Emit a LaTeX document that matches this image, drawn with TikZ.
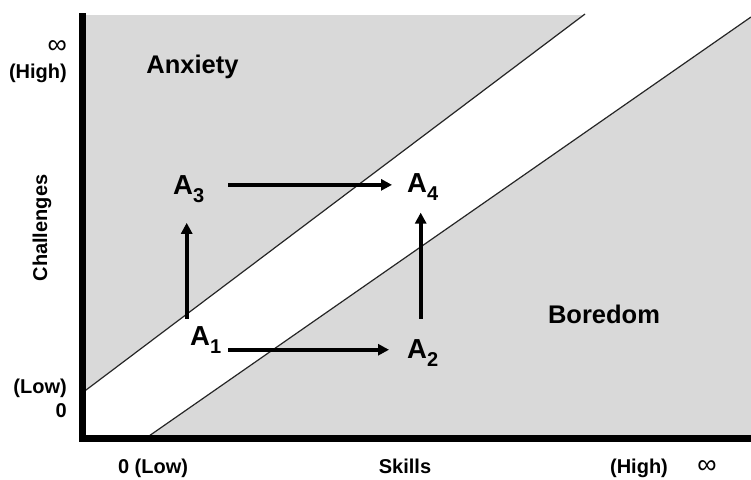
\documentclass[tikz,border=0pt]{standalone}
\usepackage{fontspec}
\setmainfont{Liberation Sans}
\usetikzlibrary{arrows.meta}
\definecolor{zonegray}{RGB}{217,217,217}
\newcommand{\lowidx}[1]{\raisebox{-8.4pt}{\fontsize{20}{20}\selectfont #1}}

\begin{document}
\begin{tikzpicture}[x=1pt,y=-1pt,
    state/.style={inner sep=0pt, anchor=base west, font=\fontsize{27.5}{27.5}\selectfont\bfseries},
    zone/.style={inner sep=0pt, anchor=base, font=\fontsize{25.5}{25.5}\selectfont\bfseries},
    tick/.style={inner sep=0pt, font=\fontsize{20}{20}\selectfont\bfseries},
    inf/.style={inner sep=0pt, font=\fontsize{27}{27}\selectfont},
    flow/.style={line width=3.8pt, -{Triangle[length=11pt,width=11pt]}}]
    \useasboundingbox (0,0) rectangle (751,479);

    % Draw the gray zones
    \fill[zonegray] (86,15) rectangle (751,436);

    % Cut out the white band between the two lines
    \fill[white] (86,390) -- (585,15) -- (751,15) -- (751,17) -- (149,436) -- (86,436) -- cycle;
    \draw[line width=1.2pt, black!85] (83,392.3) -- (585,14);
    \draw[line width=1.2pt, black!85] (149,436) -- (751,17);

    % Draw the axes
    \draw[line width=7pt] (82.5,13) -- (82.5,438.5) -- (751,438.5);

    % Label the zones
    \node (anxiety) at (192.5,73) [zone] {Anxiety};
    \node (boredom) at (604,323) [zone] {Boredom};

    % Label the axes
    \node (yinf) at (67,47) [inf, anchor=east] {∞};
    \node (yhigh) at (67,78) [tick, anchor=base east] {(High)};
    \node (ylow) at (67,393) [tick, anchor=base east] {(Low)};
    \node (yzero) at (67,417) [tick, anchor=base east] {0};
    \node (ylabel) at (42,228) [tick, rotate=90] {Challenges};
    \node (xlow) at (153,473) [tick, anchor=base] {0 (Low)};
    \node (xlabel) at (405,473) [tick, anchor=base] {Skills};
    \node (xhigh) at (639,473) [tick, anchor=base] {(High)};
    \node (xinf) at (707,467) [inf] {∞};

    % The four states
    \node (A3) at (173,194) [state] {A\lowidx{3}};
    \node (A4) at (407,192) [state] {A\lowidx{4}};
    \node (A1) at (190,345) [state] {A\lowidx{1}};
    \node (A2) at (407,358) [state] {A\lowidx{2}};

    % Arrows between the states
    \draw[flow, shorten <=24pt, shorten >=15pt] ([yshift=4pt]A3.east) -- ([yshift=4pt]A3.east -| A4.west);
    \draw[flow, shorten <=7pt, shorten >=18pt] ([yshift=-10pt]A1.east) -- ([yshift=-10pt]A1.east -| A2.west);
    \draw[flow, shorten <=7pt, shorten >=20pt] ([xshift=-2pt]A1.north -| A3.south) -- ([xshift=-2pt]A3.south);
    \draw[flow, shorten <=20pt, shorten >=12pt] ([xshift=-2pt]A2.north) -- ([xshift=-2pt]A4.south);

\end{tikzpicture}
\end{document}
